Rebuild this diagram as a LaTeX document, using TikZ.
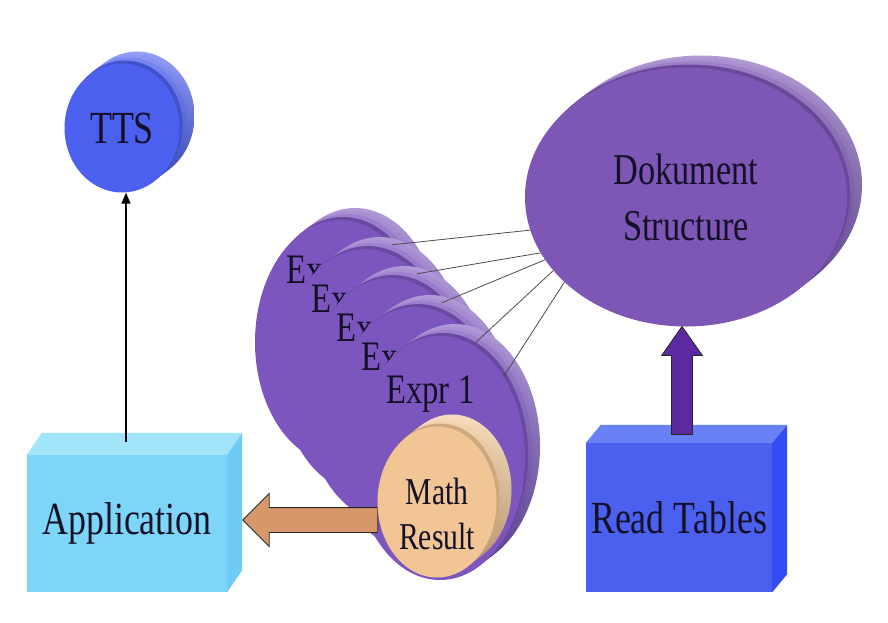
\documentclass[tikz,border=0pt]{standalone}
\usepackage{fontspec}
\setmainfont{Liberation Serif}[FakeStretch=0.78]
\usetikzlibrary{shapes.geometric, shapes.arrows, arrows.meta}

\definecolor{ttsblue}{RGB}{76,96,240}
\definecolor{tablesblue}{RGB}{76,96,240}
\definecolor{tablestop}{RGB}{104,130,246}
\definecolor{tablesside}{RGB}{52,76,244}
\definecolor{appcyan}{RGB}{125,214,248}
\definecolor{apptop}{RGB}{162,229,250}
\definecolor{appside}{RGB}{108,204,246}
\definecolor{docpurple}{RGB}{125,86,182}
\definecolor{exprpurple}{RGB}{124,86,190}
\definecolor{resultpeach}{RGB}{241,198,148}
\definecolor{arrowpeach}{RGB}{214,152,106}
\definecolor{arrowpurple}{RGB}{92,42,160}
\definecolor{inkdark}{RGB}{20,16,40}

\tikzstyle{arrow} = [
    line width=1.3pt,
    -{Triangle[width=9pt,length=11pt]}
]

\begin{document}
\begin{tikzpicture}[
    x=1pt, y=-1pt,
    disc/.style={
        ellipse,
        inner sep=0pt,
        fill=#1,
        text=inkdark,
        preaction={top color=#1!60!white, bottom color=#1!75!black,
            transform canvas={shift={(15pt,12pt)}}},
        preaction={top color=#1!65!white, bottom color=#1!75!black,
            transform canvas={shift={(11pt,9pt)}}},
        preaction={top color=#1!75!white, bottom color=#1!75!black,
            transform canvas={shift={(7pt,6pt)}}},
        preaction={fill=#1!85!black,
            transform canvas={shift={(3pt,3pt)}}}
    },
    box/.style={
        rectangle,
        inner sep=0pt,
        fill=#1,
        text=inkdark
    },
    fatarrow/.style={
        single arrow,
        draw=black!85,
        line width=0.8pt,
        inner xsep=0pt,
        minimum height=#1
    },
    link/.style={draw=black!70, line width=0.8pt},
    big/.style={font=\fontsize{46}{54}\selectfont},
    exprlabel/.style={
        font=\fontsize{42}{50}\selectfont,
        text=inkdark,
        inner sep=0pt,
        anchor=base west
    }
]
\useasboundingbox (0,0) rectangle (888,622);

% Left Column
\node[disc=ttsblue, big, minimum width=115pt, minimum height=129pt] (tts) at (122,128) {TTS};
\node[box=appcyan, big, minimum width=200pt, minimum height=137pt] (app) at (127,523.5) {Application};
\fill[apptop] (app.north west) -- ++(15,-22) -- ([shift={(15,-22)}]app.north east) -- (app.north east) -- cycle;
\fill[appside] (app.north east) -- ++(15,-22) -- ([shift={(15,-22)}]app.south east) -- (app.south east) -- cycle;
\coordinate (apptop) at ([shift={(-1,-13)}]app.north);
\draw[arrow] (apptop) -- (apptop |- tts.south);

% Right Column
\node[disc=docpurple, font=\fontsize{44}{56}\selectfont, align=center, minimum width=322pt, minimum height=259pt] (ds) at (686,197) {Dokument\\Structure};
\node[box=tablesblue, big, minimum width=186pt, minimum height=149pt] (rt) at (679,517.5) {Read Tables};
\fill[tablestop] (rt.north west) -- ++(15,-18) -- ([shift={(15,-18)}]rt.north east) -- (rt.north east) -- cycle;
\fill[tablesside] (rt.north east) -- ++(15,-18) -- ([shift={(15,-18)}]rt.south east) -- (rt.south east) -- cycle;
\node[fatarrow=108pt, fill=arrowpurple, inner ysep=10pt, single arrow head extend=10pt, single arrow tip angle=70, rotate=90, anchor=tail] (tods) at ([shift={(3,-8)}]rt.north) {};

% Expression stack (back to front)
\node[disc=exprpurple, minimum width=170pt, minimum height=244pt] (expr5) at (340,342) {};
\node[exprlabel] (lab5) at ([shift={(-54,-59)}]expr5.center) {Ex};
\node[disc=exprpurple, minimum width=170pt, minimum height=244pt] (expr4) at ([shift={(25,29)}]expr5.center) {};
\node[exprlabel] (lab4) at ([shift={(-54,-59)}]expr4.center) {Ex};
\node[disc=exprpurple, minimum width=170pt, minimum height=244pt] (expr3) at ([shift={(25,29)}]expr4.center) {};
\node[exprlabel] (lab3) at ([shift={(-54,-59)}]expr3.center) {Ex};
\node[disc=exprpurple, minimum width=170pt, minimum height=244pt] (expr2) at ([shift={(25,29)}]expr3.center) {};
\node[exprlabel] (lab2) at ([shift={(-54,-59)}]expr2.center) {Ex};
\node[disc=exprpurple, minimum width=170pt, minimum height=244pt] (expr1) at ([shift={(25,29)}]expr2.center) {};
\node[exprlabel] (lab1) at ([shift={(-54,-55)}]expr1.center) {Expr 1};

% Links to the document structure
\draw[link] (ds.192) -- (expr5.62);
\draw[link] (ds.201) -- (expr4.62);
\draw[link] (ds.204) -- (expr3.62);
\draw[link] (ds.209) -- (expr2.55);
\draw[link] (ds.215) -- (expr1.52);

% Result back to the application
\node[fatarrow=135pt, fill=arrowpeach, inner ysep=12pt, single arrow head extend=14pt, rotate=180, anchor=tip] (toapp) at ([shift={(15,-3.5)}]app.east) {};
\node[disc=resultpeach, minimum width=119pt, minimum height=151pt] (math) at (437,502) {};
\node[font=\fontsize{38}{45}\selectfont, align=center, text=inkdark] (mathtext) at ([shift={(0,12)}]math.center) {Math\\Result};

\end{tikzpicture}
\end{document}
